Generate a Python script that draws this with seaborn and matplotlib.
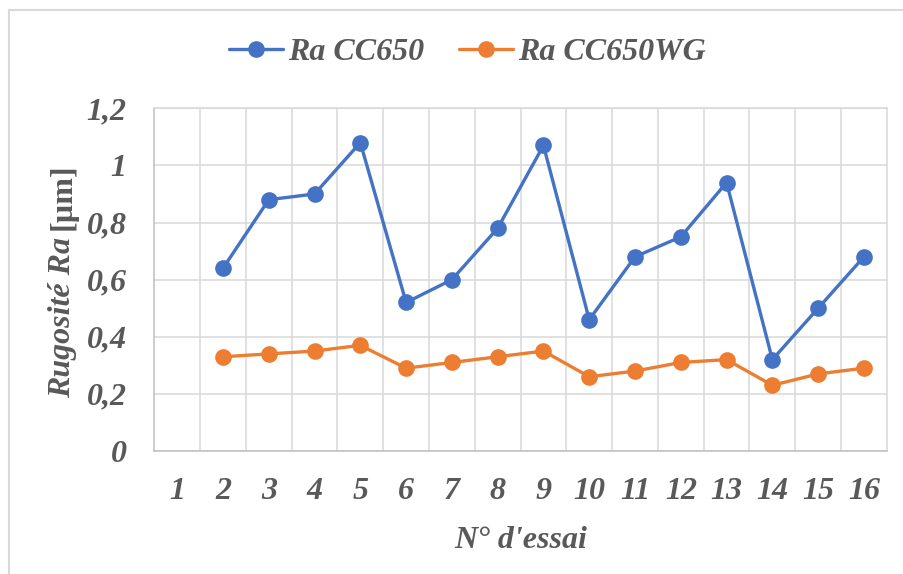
import matplotlib.pyplot as plt
import matplotlib.patches as patches
import numpy as np
import pandas as pd
import seaborn as sns

# data
essai = list(range(2, 17))
ra_cc650 = [0.64, 0.88, 0.90, 1.08, 0.52, 0.60, 0.78, 1.07, 0.46, 0.68, 0.75, 0.94, 0.32, 0.50, 0.68]
ra_cc650wg = [0.33, 0.34, 0.35, 0.37, 0.29, 0.31, 0.33, 0.35, 0.26, 0.28, 0.31, 0.32, 0.23, 0.27, 0.29]
x_labels = [str(i) for i in range(1, 17)]
y_ticks = [0, 0.2, 0.4, 0.6, 0.8, 1.0, 1.2]
y_labels = ['0', '0,2', '0,4', '0,6', '0,8', '1', '1,2']

df = pd.DataFrame({
    'essai': essai * 2,
    'Ra': ra_cc650 + ra_cc650wg,
    'serie': ['Ra CC650'] * len(essai) + ['Ra CC650WG'] * len(essai),
})

sns.set_style('white')
plt.rcParams['font.family'] = ['Liberation Serif', 'DejaVu Serif']

txt_color = '#595959'
grid_color = '#D9D9D9'
fsize = 23
font_kw = dict(fontsize=fsize, fontweight='bold', fontstyle='italic', color=txt_color)

fig = plt.figure(figsize=(9.04, 5.74), dpi=100)
ax = fig.add_axes([0.1707, 0.2143, 0.981 - 0.1707, 0.8113 - 0.2143])

sns.lineplot(data=df, x='essai', y='Ra', hue='serie', ax=ax,
             palette=['#4472C4', '#ED7D31'], marker='o', markersize=12,
             markeredgewidth=0, linewidth=2.4, legend=True)

ax.set_xlim(0.5, 16.5)
ax.set_ylim(0, 1.2)

# category ticks in the middle, grid at the boundaries
ax.set_xticks(range(1, 17))
ax.set_xticklabels(x_labels)
ax.set_xticks(np.arange(1.5, 16.5, 1), minor=True)
ax.set_yticks(y_ticks)
ax.set_yticklabels(y_labels)
ax.tick_params(axis='both', which='both', length=0)
ax.tick_params(axis='x', pad=19)
ax.tick_params(axis='y', pad=20)
for lab in ax.get_xticklabels() + ax.get_yticklabels():
    lab.set_fontsize(fsize)
    lab.set_fontweight('bold')
    lab.set_fontstyle('italic')
    lab.set_color(txt_color)

ax.grid(axis='x', which='minor', color=grid_color, linewidth=1.1)
ax.grid(axis='y', which='major', color=grid_color, linewidth=1.1)
ax.set_axisbelow(True)

for s in ['top', 'right']:
    ax.spines[s].set_color(grid_color)
    ax.spines[s].set_linewidth(1.1)
for s in ['left', 'bottom']:
    ax.spines[s].set_color('#BFBFBF')
    ax.spines[s].set_linewidth(1.1)

ax.set_xlabel("N° d'essai", labelpad=14, **font_kw)
ax.set_ylabel('')

# y label: italic part + upright unit
ylab1 = fig.text(63 / 904, 1 - 398 / 574, 'Rugosité Ra', rotation=90,
                 ha='center', va='bottom', **font_kw)
fig.canvas.draw()
bb = ylab1.get_window_extent(fig.canvas.get_renderer())
fig.text(63 / 904, (bb.y1 + 7) / fig.bbox.height, '[µm]', rotation=90,
         ha='center', va='bottom', fontsize=fsize, fontweight='bold',
         color=txt_color)

handles, labels = ax.get_legend_handles_labels()
ax.legend(handles, labels, loc='center', bbox_to_anchor=(0.517, 0.909),
          bbox_transform=fig.transFigure, ncol=2, frameon=False,
          handlelength=1.7, handletextpad=0.15, columnspacing=1.1,
          prop=dict(family='Liberation Serif', size=fsize, weight='bold', style='italic'),
          labelcolor=txt_color)

# chart border (only top and left visible in the crop)
fig.patches.append(patches.Rectangle((9 / 904, -0.5), 2, 0.5 + 1 - 10 / 574,
                                     transform=fig.transFigure, fill=False,
                                     edgecolor=grid_color, linewidth=1.5))

fig.savefig('out.png', dpi=100)
